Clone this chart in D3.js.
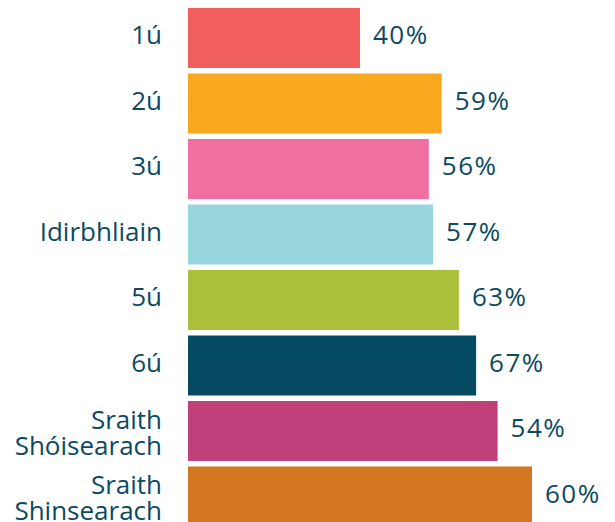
<!DOCTYPE html>
<html>
<head>
<meta charset="utf-8">
<script src="https://cdn.jsdelivr.net/npm/d3@7"></script>
<style>
    body { margin: 0; background: #ffffff; }
    #chart text { font-family: "Open Sans", sans-serif; fill: #0b4a62; }
</style>
</head>
<body>
<div id="chart"></div>
<script>
// Categories (year groups), shown labels, and bar lengths as drawn
const categories = ['1ú', '2ú', '3ú', 'Idirbhliain', '5ú', '6ú', 'Sraith Shóisearach', 'Sraith Shinsearach'];
const values = [40, 59, 56, 57, 63, 67, 72, 80];
const valueLabels = ['40%', '59%', '56%', '57%', '63%', '67%', '54%', '60%'];
const barColors = ['#f05f5e', '#f8a81e', '#f06ea0', '#97d6dd', '#adc03c', '#054a63', '#c0407b', '#d37722'];

function init() {
    const width = 615;
    const height = 522;

    const svg = d3.select('#chart')
        .append('svg')
        .attr('width', width)
        .attr('height', height);

    // Scales
    const x = d3.scaleLinear()
        .domain([0, 100])
        .range([188, 618]);

    const y = d3.scaleBand()
        .domain(categories)
        .range([5.25, 529.25])
        .paddingInner(0.084)
        .paddingOuter(0.042);

    // Bars
    svg.selectAll('rect.bar')
        .data(categories)
        .enter().append('rect')
        .attr('class', 'bar')
        .attr('x', x(0))
        .attr('y', d => y(d))
        .attr('width', (d, i) => x(values[i]) - x(0))
        .attr('height', y.bandwidth())
        .style('fill', (d, i) => barColors[i]);

    // Category labels (wrapped on spaces)
    const lineHeight = 26;
    const catLabels = svg.selectAll('text.cat')
        .data(categories)
        .enter().append('text')
        .attr('class', 'cat')
        .attr('text-anchor', 'end')
        .style('font-size', '26px');

    catLabels.each(function(d) {
        const lines = d.split(' ');
        const cy = y(d) + y.bandwidth() / 2;
        const first = cy + 6 - (lines.length - 1) * 8.5;
        lines.forEach((line, k) => {
            d3.select(this).append('tspan')
                .attr('x', 162)
                .attr('y', first + k * lineHeight)
                .text(line);
        });
    });

    // Value labels
    svg.selectAll('text.val')
        .data(categories)
        .enter().append('text')
        .attr('class', 'val')
        .attr('x', (d, i) => x(values[i]) + 13)
        .attr('y', d => y(d) + y.bandwidth() / 2 + 6)
        .style('font-size', '26px')
        .style('letter-spacing', '1.5px')
        .text((d, i) => valueLabels[i]);
}

window.onload = init;
</script>
</body>
</html>
